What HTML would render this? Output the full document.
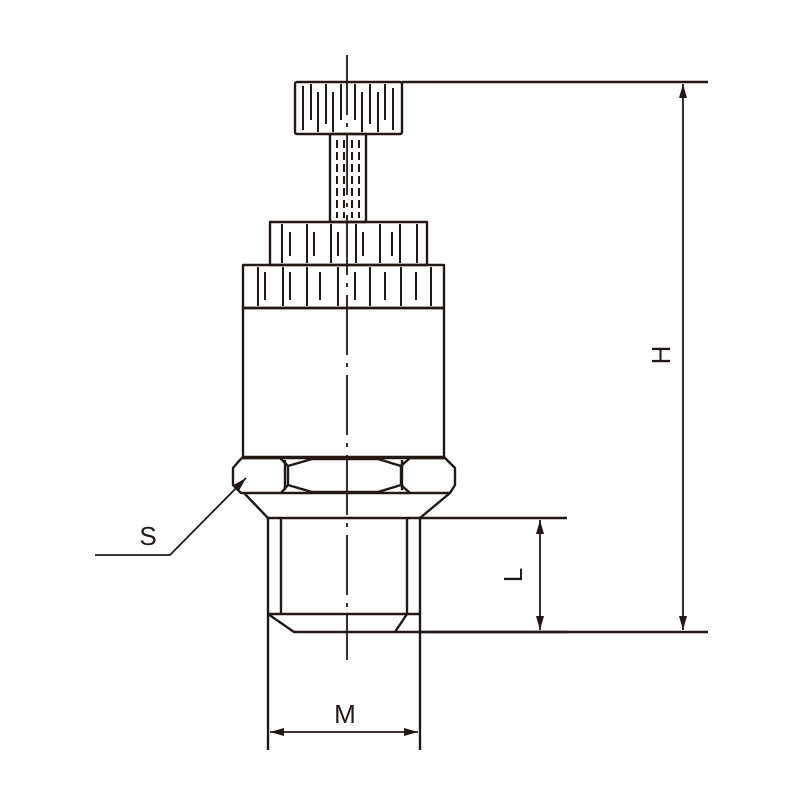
<!DOCTYPE html>
<html><head><style>body{margin:0;background:#fff}svg{display:block}</style></head><body>
<svg width="800" height="800" viewBox="0 0 800 800" xmlns="http://www.w3.org/2000/svg">
<defs>
<marker id="a" viewBox="0 0 14 10" refX="14" refY="5" markerWidth="14" markerHeight="10" orient="auto-start-reverse" markerUnits="userSpaceOnUse"><path d="M0,1 L14,5 L0,9 Z" fill="#231815"/></marker>
</defs>
<g fill="none" stroke="#231815" stroke-width="2.4" stroke-linejoin="round">
<rect x="295" y="82" width="107" height="52" rx="2"/>
<rect x="330" y="134" width="36" height="88"/>
<rect x="270" y="222" width="157" height="43"/>
<rect x="243" y="265" width="201" height="43"/>
<rect x="243" y="308" width="201" height="150"/>
<path d="M243,457 L239,461 L233,468 L233,485 L241,493 L450,493 L455,485 L455,468 L448,461 L444,457 Z"/>
<path d="M285,460 L285,490 M402,460 L402,490"/>
<path d="M242,458 L280,458 L288,466 L288,485 L281,493"/>
<path d="M288,466 L312,459 L378,459 L401,466 M288,485 L312,492 L378,492 L401,485"/>
<path d="M444,458 L410,458 L401,466 L401,485 L410,493"/>
<path d="M244,493 L268,518 L420,518 L450,493"/>
<path d="M268,518 L268,750 M420,518 L420,750"/>
<path d="M281,518 L281,614 M407,518 L407,614 M268,614 L420,614"/>
<path d="M268,614 L294,632 L567,632 M407,614 L395,632"/>
<path d="M420,518 L567,518"/>
<path d="M402,82 L708,82 M420,632 L708,632"/>
<path d="M683,84 L683,630" marker-start="url(#a)" marker-end="url(#a)" stroke-width="1.8"/>
<path d="M540,520 L540,630" marker-start="url(#a)" marker-end="url(#a)" stroke-width="1.8"/>
<path d="M270,732 L418,732" marker-start="url(#a)" marker-end="url(#a)" stroke-width="1.8"/>
<path d="M95,555 L170,555 L246,478" stroke-width="1.8" marker-end="url(#a)"/>
</g>
<g stroke="#231815" stroke-width="2">
<path d="M303,86 V130 M311,84 V120 M318,92 V132 M326,84 V124 M333,92 V132 M341,84 V120 M355,84 V120 M362,92 V132 M370,84 V124 M378,92 V132 M385,84 V120 M393,88 V130"/>
<path d="M337,140 V218 M344,140 V218 M352,140 V218 M359,140 V218" stroke-dasharray="8 4"/>
<path d="M282,224 V263 M290,232 V256 M307,224 V263 M314,232 V256 M331,224 V263 M338,232 V256 M356,224 V263 M363,232 V256 M380,224 V263 M392,232 V256 M400,224 V263 M417,224 V263"/>
<path d="M258,267 V306 M265,272 V300 M283,267 V306 M290,272 V300 M307,267 V306 M320,272 V300 M338,267 V306 M355,272 V300 M370,267 V306 M385,272 V300 M401,267 V306 M416,272 V300 M431,267 V306"/>
</g>
<path d="M347,55 V660" stroke="#231815" stroke-width="1.8" stroke-dasharray="60 8 4 8"/>
<g font-family="Liberation Sans, sans-serif" font-size="26" fill="#231815">
<text x="148" y="545" text-anchor="middle">S</text>
<text x="345" y="723" text-anchor="middle">M</text>
<text transform="translate(670,355) rotate(-90)" text-anchor="middle">H</text>
<text transform="translate(522,575) rotate(-90)" text-anchor="middle">L</text>
</g>
</svg>
</body></html>
